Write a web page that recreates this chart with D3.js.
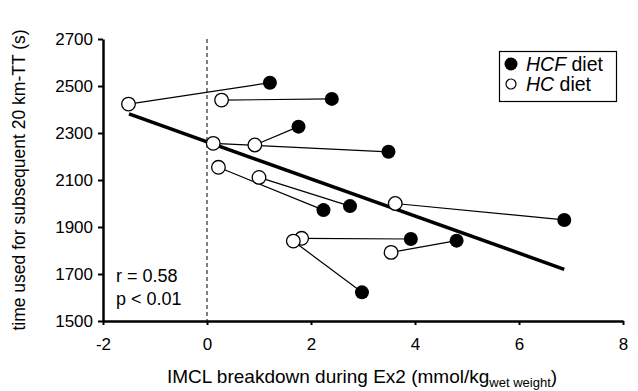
<!DOCTYPE html>
<html>
<head>
<meta charset="utf-8">
<script src="https://cdnjs.cloudflare.com/ajax/libs/d3/7.8.5/d3.min.js"></script>
<style>
  body { margin: 0; background: #fff; }
  svg { font-family: "Liberation Sans", Arial, sans-serif; }
</style>
</head>
<body>
<div class="chart"></div>
<script>
// subject i: HC diet point hc[i] joined to HCF diet point hcf[i]
var hcfX = [1.21, 2.40, 1.76, 3.49, 2.24, 2.75, 6.87, 3.92, 4.80, 2.98];
var hcfY = [2514, 2445, 2327, 2220, 1972, 1989, 1930, 1849, 1842, 1622];
var hcX = [-1.51, 0.28, 0.92, 0.12, 0.22, 1.00, 3.62, 1.82, 3.54, 1.66];
var hcY = [2423, 2440, 2249, 2256, 2154, 2111, 2000, 1852, 1792, 1840];

// regression line end points
var fitX = [-1.5, 6.87];
var fitY = [2381, 1720];

var xTicks = [-2, 0, 2, 4, 6, 8];
var yTicks = [1500, 1700, 1900, 2100, 2300, 2500, 2700];

var W = 638, H = 391;
var margin = { top: 39, right: 15, bottom: 70, left: 103 };

var x = d3.scaleLinear().domain([-2, 8]).range([margin.left, 623]);
var y = d3.scaleLinear().domain([1500, 2700]).range([321, margin.top]);

var svg = d3.select(".chart").append("svg")
    .attr("width", W)
    .attr("height", H);

// dashed line at x = 0
svg.append("line")
    .attr("x1", x(0)).attr("x2", x(0))
    .attr("y1", y(2700)).attr("y2", y(1500))
    .attr("stroke", "#000")
    .attr("stroke-width", 1)
    .attr("stroke-dasharray", "4,3");

// axes
var fmt = function (d) { return String(d); };
var xAxis = svg.append("g")
    .attr("transform", "translate(0," + y(1500) + ")")
    .call(d3.axisBottom(x).tickValues(xTicks).tickFormat(fmt)
        .tickSize(4).tickSizeOuter(0).tickPadding(13));
var yAxis = svg.append("g")
    .attr("transform", "translate(" + x(-2) + ",0)")
    .call(d3.axisLeft(y).tickValues(yTicks).tickFormat(fmt)
        .tickSize(5).tickSizeOuter(0).tickPadding(5));

[xAxis, yAxis].forEach(function (ax) {
    ax.select(".domain").attr("stroke-width", 2.5);
    ax.selectAll(".tick line").attr("stroke-width", 2);
    ax.selectAll(".tick text")
        .attr("font-size", 17)
        .attr("fill", "#000")
        .style("font-family", "Liberation Sans, Arial, sans-serif");
});

// regression line
svg.append("line")
    .attr("x1", x(fitX[0])).attr("y1", y(fitY[0]))
    .attr("x2", x(fitX[1])).attr("y2", y(fitY[1]))
    .attr("stroke", "#000")
    .attr("stroke-width", 3.5);

// lines joining the two diets of each subject
svg.selectAll(".pair")
    .data(hcX)
    .enter().append("line")
    .attr("class", "pair")
    .attr("x1", function (d, i) { return x(hcX[i]); })
    .attr("y1", function (d, i) { return y(hcY[i]); })
    .attr("x2", function (d, i) { return x(hcfX[i]); })
    .attr("y2", function (d, i) { return y(hcfY[i]); })
    .attr("stroke", "#000")
    .attr("stroke-width", 1.2);

// HC diet (open)
svg.selectAll(".hc")
    .data(hcX)
    .enter().append("circle")
    .attr("class", "hc")
    .attr("cx", function (d, i) { return x(hcX[i]); })
    .attr("cy", function (d, i) { return y(hcY[i]); })
    .attr("r", 6.8)
    .attr("fill", "#fff")
    .attr("stroke", "#000")
    .attr("stroke-width", 1.3);

// HCF diet (filled)
svg.selectAll(".hcf")
    .data(hcfX)
    .enter().append("circle")
    .attr("class", "hcf")
    .attr("cx", function (d, i) { return x(hcfX[i]); })
    .attr("cy", function (d, i) { return y(hcfY[i]); })
    .attr("r", 7)
    .attr("fill", "#000");

// stats text
svg.append("text").attr("x", 116).attr("y", 282)
    .attr("font-size", 18).text("r = 0.58");
svg.append("text").attr("x", 116).attr("y", 305)
    .attr("font-size", 18).text("p < 0.01");

// legend
var lg = svg.append("g");
lg.append("rect")
    .attr("x", 499.5).attr("y", 51.5)
    .attr("width", 117).attr("height", 50)
    .attr("fill", "#fff").attr("stroke", "#000").attr("stroke-width", 1.2);
lg.append("circle").attr("cx", 511).attr("cy", 64).attr("r", 6.5).attr("fill", "#000");
lg.append("circle").attr("cx", 511).attr("cy", 84).attr("r", 5)
    .attr("fill", "#fff").attr("stroke", "#000").attr("stroke-width", 1.2);
var t1 = lg.append("text").attr("x", 526).attr("y", 70.5).attr("font-size", 19.5);
t1.append("tspan").attr("font-style", "italic").text("HCF");
t1.append("tspan").text(" diet");
var t2 = lg.append("text").attr("x", 526).attr("y", 91).attr("font-size", 19.5);
t2.append("tspan").attr("font-style", "italic").text("HC");
t2.append("tspan").text(" diet");

// axis titles
var xt = svg.append("text")
    .attr("x", 362).attr("y", 383)
    .attr("text-anchor", "middle")
    .attr("font-size", 19);
xt.append("tspan").text("IMCL breakdown during Ex2 (mmol/kg");
xt.append("tspan").attr("font-size", 13).attr("dy", 4).text("wet weight");
xt.append("tspan").attr("dy", -4).text(")");

svg.append("text")
    .attr("transform", "translate(25," + y(2100) + ") rotate(-90)")
    .attr("text-anchor", "middle")
    .attr("font-size", 17.5)
    .text("time used for subsequent 20 km-TT (s)");
</script>
</body>
</html>
